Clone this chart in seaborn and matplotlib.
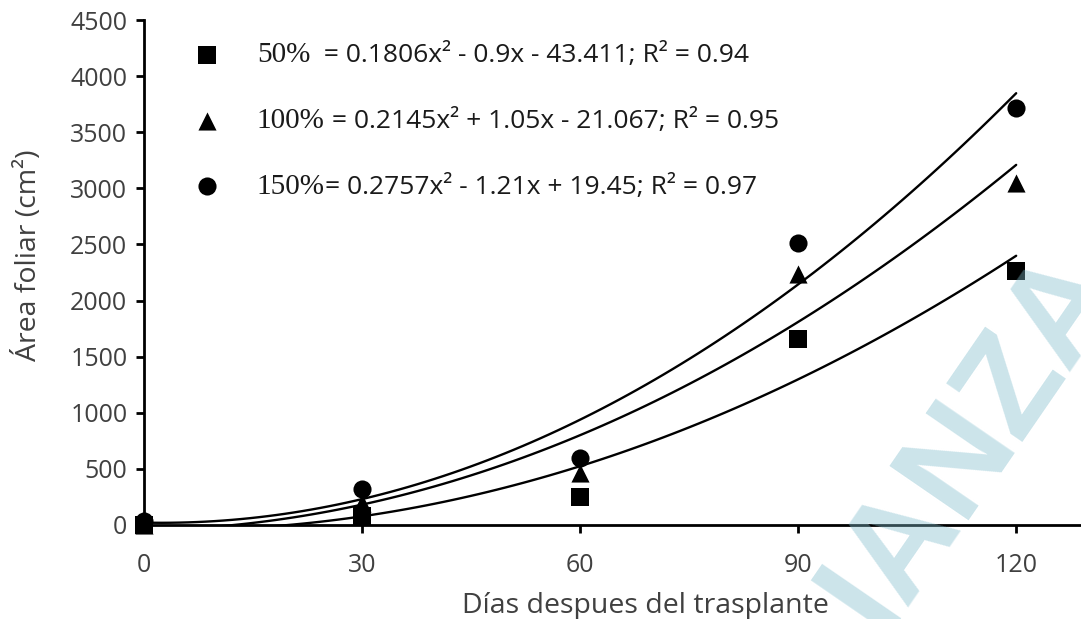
import matplotlib
matplotlib.use('Agg')
import matplotlib.pyplot as plt
import seaborn as sns

# datos
dias = [0, 30, 60, 90, 120]
af_50 = [0, 83, 252, 1655, 2266]
af_100 = [0, 200, 466, 2237, 3051]
af_150 = [35, 318, 594, 2516, 3719]

etiquetas = ['50%', '100%', '150%']
ecuaciones = ['  = 0.1806x\u00b2 - 0.9x - 43.411; R\u00b2 = 0.94',
              ' = 0.2145x\u00b2 + 1.05x - 21.067; R\u00b2 = 0.95',
              '= 0.2757x\u00b2 - 1.21x + 19.45; R\u00b2 = 0.97']
marcadores = ['s', '^', 'o']

sns.set_style('ticks')
plt.rcParams['font.family'] = ['Open Sans', 'DejaVu Sans']

fig = plt.figure(figsize=(10.81, 6.19), dpi=100)
# eje x recortado por la derecha como en la imagen original
ax = fig.add_axes([144/1081, 94/619, 1003/1081, 505/619])

for serie, m in zip([af_50, af_100, af_150], marcadores):
    sns.regplot(x=dias, y=serie, order=2, ci=None, truncate=True, marker=m, ax=ax,
                scatter_kws={'s': 170, 'color': 'black', 'alpha': 1, 'linewidths': 0,
                             'clip_on': False, 'zorder': 3},
                line_kws={'color': 'black', 'lw': 1.7, 'zorder': 2})

ax.set_xlim(0, 138)
ax.set_ylim(0, 4500)
ax.set_xticks([0, 30, 60, 90, 120])
ax.set_yticks(range(0, 4501, 500))
for s in ['top', 'right']:
    ax.spines[s].set_visible(False)
for s in ['left', 'bottom']:
    ax.spines[s].set_linewidth(2)
    ax.spines[s].set_color('black')
ax.tick_params(direction='out', length=6, width=2, colors='black', labelcolor='#404040', labelsize=18)
ax.tick_params(axis='x', pad=14)
ax.tick_params(axis='y', pad=6)

ax.set_xlabel('Días despues del trasplante', fontsize=20.5, color='#404040', labelpad=10)
ax.set_ylabel('Área foliar (cm\u00b2)', fontsize=20.5, color='#404040')
ax.yaxis.set_label_coords(-101/1003, 270/505)

# leyenda: porcentaje en serif + ecuacion en sans
handles = ax.collections[:3]
leg = ax.legend(handles, etiquetas, loc='upper left', bbox_to_anchor=(194/1081, 1 - 42/619),
                bbox_transform=fig.transFigure, frameon=False, handlelength=0.9,
                handletextpad=1.25, labelspacing=1.35, borderpad=0, borderaxespad=0,
                scatterpoints=1, prop={'family': 'Liberation Serif', 'size': 21})
for txt in leg.get_texts():
    txt.set_color('#1a1a1a')
fig.canvas.draw()
for txt, eq in zip(leg.get_texts(), ecuaciones):
    ax.annotate(eq, xy=(1, 0.5), xycoords=txt, va='center', ha='left',
                fontsize=19, color='#1a1a1a', annotation_clip=False)

# marca de agua (coordenadas en pixeles)
fig.text(922, 619 - 520, 'ALIANZA', transform=None, fontsize=100, fontweight='bold',
         family='Liberation Sans', color='#7fbccc', alpha=0.4, rotation=55.5,
         ha='center', va='center', rotation_mode='anchor', zorder=10)

fig.savefig('out.png', dpi=100)
